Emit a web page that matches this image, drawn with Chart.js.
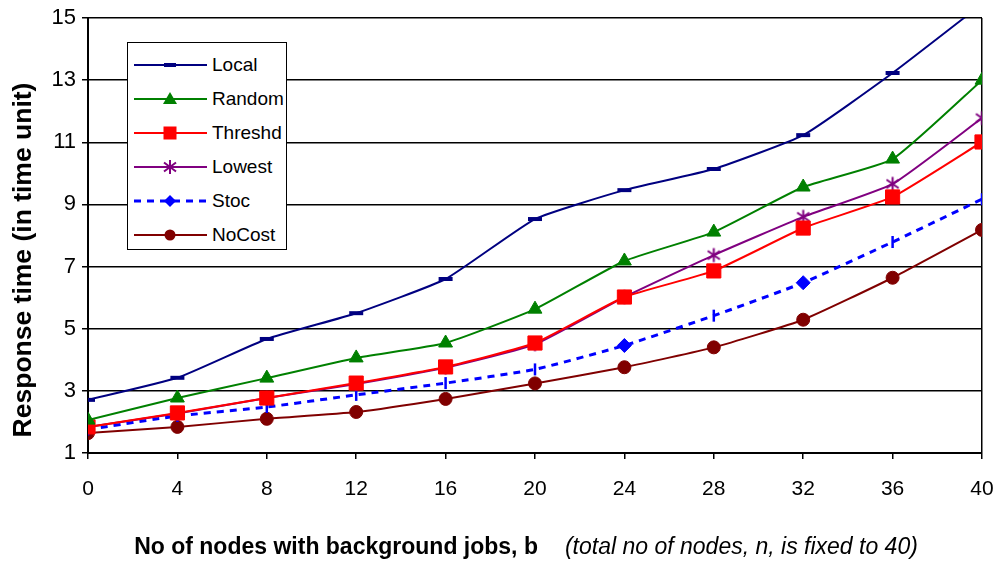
<!DOCTYPE html>
<html>
<head>
<meta charset="utf-8">
<script src="https://cdn.jsdelivr.net/npm/chart.js@4.4.0/dist/chart.umd.min.js"></script>
<style>
  html, body { margin: 0; padding: 0; background: #fff; }
  #wrap { position: relative; width: 998px; height: 563px; background: #fff; overflow: hidden; }
  #c { position: absolute; left: 0; top: 0; }
  #legend { position: absolute; left: 127px; top: 42px; width: 158px; height: 206px; border: 1.5px solid #000; background: #fff; }
  .row { position: absolute; left: 0; height: 24px; width: 158px; }
  .row svg { position: absolute; left: 5px; top: 0; }
  .row span { position: absolute; left: 84px; top: 0; line-height: 24px; font-family: "Liberation Sans", Arial, sans-serif; font-size: 19px; color: #000; }
  #xtitle { position: absolute; left: 27px; top: 533px; width: 998px; line-height: 26px; text-align: center; white-space: nowrap; font-family: "Liberation Sans", Arial, sans-serif; font-size: 23px; color: #000; }
  #xtitle b { font-weight: bold; }
  #xtitle i { font-style: italic; margin-left: 27px; }
  #ytitle { position: absolute; left: -178px; top: 245px; width: 400px; height: 30px; line-height: 30px; text-align: center; white-space: nowrap; transform: rotate(-90deg); font-family: "Liberation Sans", Arial, sans-serif; font-size: 26.5px; font-weight: bold; color: #000; }
</style>
</head>
<body>
<div id="wrap">
  <canvas id="c" width="998" height="563"></canvas>
  <div id="legend"></div>
  <div id="ytitle"></div>
  <div id="xtitle"><b>No of nodes with background jobs, b</b><i>(total no of nodes, n, is fixed to 40)</i></div>
</div>
<script>
// ---- data ----
const xValues   = [0, 4, 8, 12, 16, 20, 24, 28, 32, 36, 40];
const seriesNames = ["Local", "Random", "Threshd", "Lowest", "Stoc", "NoCost"];
const localVals   = [2.71, 3.42, 4.67, 5.50, 6.60, 8.53, 9.46, 10.14, 11.23, 13.23, 15.45];
const randomVals  = [2.06, 2.77, 3.41, 4.06, 4.54, 5.63, 7.18, 8.11, 9.56, 10.46, 13.00];
const threshdVals = [1.84, 2.29, 2.77, 3.25, 3.77, 4.54, 6.02, 6.86, 8.24, 9.24, 11.01];
const lowestVals  = [1.84, 2.27, 2.77, 3.22, 3.75, 4.50, 6.02, 7.37, 8.60, 9.66, 11.78];
const stocVals    = [1.76, 2.19, 2.48, 2.87, 3.25, 3.69, 4.46, 5.42, 6.48, 7.79, 9.17];
const noCostVals  = [1.64, 1.84, 2.10, 2.32, 2.74, 3.24, 3.76, 4.40, 5.29, 6.64, 8.18];
const yTicks = [1, 3, 5, 7, 9, 11, 13, 15];
const xTicks = [0, 4, 8, 12, 16, 20, 24, 28, 32, 36, 40];
const yTitle = "Response time (in time unit)";

document.getElementById("ytitle").textContent = yTitle;

const colors = {
  Local: "#000080", Random: "#008000", Threshd: "#FF0000",
  Lowest: "#800080", Stoc: "#0000FF", NoCost: "#800000"
};

// asterisk marker
function makeAsterisk(size, color) {
  const cv = document.createElement("canvas");
  cv.width = size; cv.height = size;
  const g = cv.getContext("2d");
  g.strokeStyle = color; g.lineWidth = 2;
  const m = size / 2, r = size / 2 - 1.5;
  g.beginPath();
  g.moveTo(m, m - r); g.lineTo(m, m + r);
  g.moveTo(m - r * 0.87, m - r * 0.6); g.lineTo(m + r * 0.87, m + r * 0.6);
  g.moveTo(m + r * 0.87, m - r * 0.6); g.lineTo(m - r * 0.87, m + r * 0.6);
  g.stroke();
  return cv;
}
const asterisk = makeAsterisk(17, colors.Lowest);

function pts(vals) { return xValues.map((x, i) => ({ x: x, y: vals[i] })); }

const stocStyles = xValues.map(x => (x === 24 || x === 32) ? "rectRot" : "line");
const stocRot = xValues.map(x => (x === 24 || x === 32) ? 0 : 90);
const stocRad = xValues.map(x => (x === 24 || x === 32) ? 7 : 6);
const stocBW = xValues.map(x => (x === 24 || x === 32) ? 1 : 2.5);

const datasets = [
  { label: "Local", data: pts(localVals), borderColor: colors.Local, backgroundColor: colors.Local,
    borderWidth: 2, pointStyle: "line", pointRadius: 7, pointBorderWidth: 4 },
  { label: "Random", data: pts(randomVals), borderColor: colors.Random, backgroundColor: colors.Random,
    borderWidth: 2, pointStyle: "triangle", pointRadius: 8, pointBorderWidth: 1 },
  { label: "Threshd", data: pts(threshdVals), borderColor: colors.Threshd, backgroundColor: colors.Threshd,
    borderWidth: 2, pointStyle: "rect", pointRadius: 10, pointBorderWidth: 1 },
  { label: "Lowest", data: pts(lowestVals), borderColor: colors.Lowest, backgroundColor: colors.Lowest,
    borderWidth: 2, pointStyle: asterisk, pointRadius: 8 },
  { label: "Stoc", data: pts(stocVals), borderColor: colors.Stoc, backgroundColor: colors.Stoc,
    borderWidth: 3, borderDash: [7, 6], pointStyle: stocStyles, rotation: stocRot,
    pointRadius: stocRad, pointBorderWidth: stocBW },
  { label: "NoCost", data: pts(noCostVals), borderColor: colors.NoCost, backgroundColor: colors.NoCost,
    borderWidth: 2, pointStyle: "circle", pointRadius: 6.5, pointBorderWidth: 1 }
];
datasets.forEach(d => { d.tension = 0.15; d.fill = false; d.pointHoverRadius = d.pointRadius; });

const chart = new Chart(document.getElementById("c"), {
  type: "line",
  data: { datasets: datasets },
  options: {
    responsive: false,
    devicePixelRatio: 1,
    animation: false,
    layout: { padding: { left: 0, right: 16, top: 18, bottom: 0 } },
    plugins: { legend: { display: false }, tooltip: { enabled: false } },
    scales: {
      x: {
        type: "linear", min: 0, max: 40,
        afterBuildTicks: s => { s.ticks = xTicks.map(v => ({ value: v })); },
        afterFit: s => { s.height = 110; s.paddingLeft = 0; s.paddingRight = 0; },
        ticks: { color: "#000", padding: 18, font: { family: "Liberation Sans, Arial", size: 21 }, maxRotation: 0 },
        grid: {
          color: ctx => (ctx.tick && ctx.tick.value === 40) ? "#000" : "rgba(0,0,0,0)",
          lineWidth: 1.5, tickColor: "#000", tickLength: 6, drawOnChartArea: true
        },
        border: { color: "#000", width: 2 }
      },
      y: {
        type: "linear", min: 1, max: 15,
        afterBuildTicks: s => { s.ticks = yTicks.map(v => ({ value: v })); },
        afterFit: s => { s.width = 88; s.paddingTop = 0; s.paddingBottom = 0; },
        ticks: { color: "#000", padding: 6, font: { family: "Liberation Sans, Arial", size: 22 } },
        grid: { color: "#000", lineWidth: 1.5, tickColor: "#000", tickLength: 6 },
        border: { color: "#000", width: 2 }
      }
    }
  }
});

// ---- HTML legend ----
const legendEl = document.getElementById("legend");
const rowTops = [10, 44, 78, 112, 146, 180];
function markerSvg(name) {
  const c = colors[name];
  const cx = 37, cy = 12;
  switch (name) {
    case "Local": return `<rect x="${cx-6}" y="${cy-2}" width="12" height="4" fill="${c}"/>`;
    case "Random": return `<polygon points="${cx},${cy-7} ${cx+7},${cy+5} ${cx-7},${cy+5}" fill="${c}"/>`;
    case "Threshd": return `<rect x="${cx-6.5}" y="${cy-6.5}" width="13" height="13" fill="${c}"/>`;
    case "Lowest": return `<g stroke="${c}" stroke-width="2"><line x1="${cx}" y1="${cy-7}" x2="${cx}" y2="${cy+7}"/><line x1="${cx-6}" y1="${cy-4.5}" x2="${cx+6}" y2="${cy+4.5}"/><line x1="${cx+6}" y1="${cy-4.5}" x2="${cx-6}" y2="${cy+4.5}"/></g>`;
    case "Stoc": return `<polygon points="${cx},${cy-6} ${cx+6},${cy} ${cx},${cy+6} ${cx-6},${cy}" fill="${c}"/>`;
    case "NoCost": return `<circle cx="${cx}" cy="${cy}" r="5.5" fill="${c}"/>`;
  }
}
seriesNames.forEach((name, i) => {
  const c = colors[name];
  const dash = name === "Stoc" ? ` stroke-dasharray="7,6" stroke-width="3"` : ` stroke-width="2"`;
  const row = document.createElement("div");
  row.className = "row";
  row.style.top = rowTops[i] + "px";
  row.innerHTML = `<svg width="76" height="24"><line x1="1" y1="12" x2="74" y2="12" stroke="${c}"${dash}/>${markerSvg(name)}</svg><span>${name}</span>`;
  legendEl.appendChild(row);
});
</script>
</body>
</html>
